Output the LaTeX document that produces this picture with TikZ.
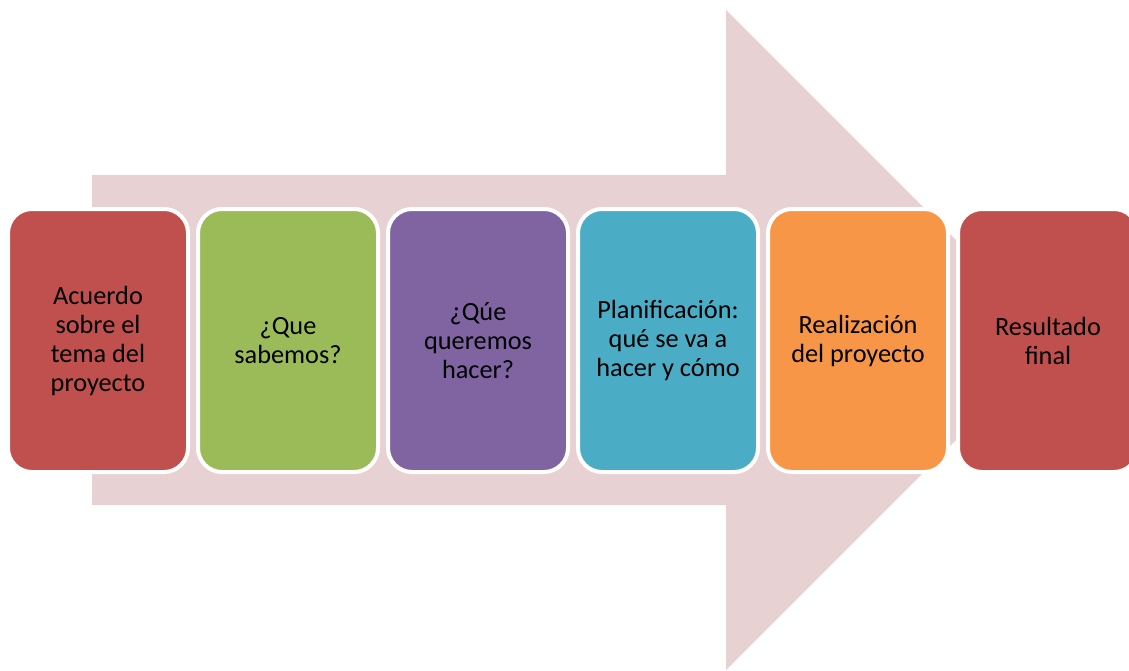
\documentclass[tikz,border=0pt]{standalone}
\usepackage{fontspec}
\setmainfont{Carlito}
\definecolor{arrowpink}{HTML}{E7D1D2}
\definecolor{cred}{HTML}{C0504D}
\definecolor{cgreen}{HTML}{9BBB59}
\definecolor{cpurple}{HTML}{8064A2}
\definecolor{cblue}{HTML}{4BACC6}
\definecolor{corange}{HTML}{F79646}
\begin{document}
\begin{tikzpicture}[x=1pt,y=-1pt,
  stepbox/.style={draw=white, line width=4pt, rounded corners=24pt,
    minimum width=180pt, minimum height=263pt, inner sep=0pt,
    align=center, text=black,
    font=\fontsize{26.3}{29}\selectfont}]
\useasboundingbox (0,0) rectangle (1129,671);
\fill[arrowpink] (92,175) -- (726,175) -- (726,10) -- (1056,340)
  -- (726,670) -- (726,505) -- (92,505) -- cycle;
\node[stepbox, fill=cred]    (s1) at (98,340.5)  {Acuerdo\\sobre el\\tema del\\proyecto};
\node[stepbox, fill=cgreen]  (s2) at (288,340.5) {¿Que\\sabemos?};
\node[stepbox, fill=cpurple] (s3) at (478,340.5) {¿Qúe\\queremos\\hacer?};
\node[stepbox, fill=cblue]   (s4) at (668,340.5) {Planificación:\\qué se va a\\hacer y cómo};
\node[stepbox, fill=corange] (s5) at (858,340.5) {Realización\\del proyecto};
\node[stepbox, fill=cred]    (s6) at (1048,340.5) {Resultado\\final};
\end{tikzpicture}
\end{document}
